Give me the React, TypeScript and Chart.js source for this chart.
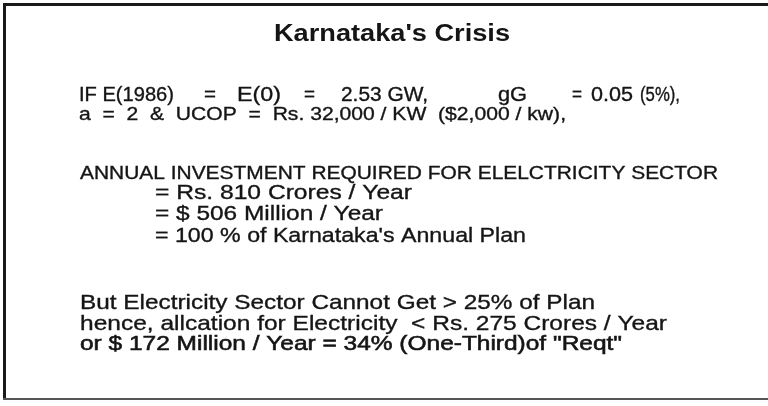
import React, { useEffect, useRef } from "react";
import { Chart, registerables } from "chart.js";

Chart.register(...registerables);

// ---- content ----
const titleText = "Karnataka's Crisis";
const firstLineParts = ["IF E(1986)", "=", "E(0)", "=", "2.53 GW,", "gG", "=", "0.05", "(5%),"];
const secondLine = "a  =  2  &  UCOP  =  Rs. 32,000 / KW  ($2,000 / kw),";
const investmentHeader = "ANNUAL INVESTMENT REQUIRED FOR ELELCTRICITY SECTOR";
const investmentLines = [
  "= Rs. 810 Crores / Year",
  "= $ 506 Million / Year",
  "= 100 % of Karnataka's Annual Plan",
];
const conclusionLines = [
  "But Electricity Sector Cannot Get > 25% of Plan",
  "hence, allcation for Electricity  < Rs. 275 Crores / Year",
  "or $ 172 Million / Year = 34% (One-Third)of \"Reqt\"",
];

// ---- layout (x start, x end, baseline, font size, weight) ----
type Slot = { x: number; r: number; y: number; size: number; bold?: boolean; heavy?: boolean };
const titleSlot: Slot = { x: 274, r: 510, y: 41, size: 23, bold: true };
const firstLineY = 101;
const firstLineSize = 19.5;
const firstLineSpans: Array<[number, number]> = [
  [79, 174], [204, 216], [237, 281], [304, 315], [341, 428],
  [498, 527], [572, 582], [591, 633], [640, 680],
];
const secondSlot: Slot = { x: 79, r: 566, y: 120, size: 18.5 };
const headerSlot: Slot = { x: 80, r: 718, y: 179, size: 18.5 };
const investmentSlots: Slot[] = [
  { x: 155, r: 412, y: 199, size: 20.5 },
  { x: 155, r: 383, y: 220, size: 20.5 },
  { x: 155, r: 526, y: 242, size: 20.5 },
];
const conclusionSlots: Slot[] = [
  { x: 80, r: 595, y: 309, size: 21 },
  { x: 80, r: 667, y: 330, size: 21 },
  { x: 80, r: 622, y: 350, size: 21, heavy: true },
];

const FONT = "'Liberation Sans', Arial, Helvetica, sans-serif";
const INK = "#151515";

function drawFitted(ctx: CanvasRenderingContext2D, text: string, s: Slot) {
  ctx.save();
  ctx.font = `${s.bold ? "bold " : ""}${s.size}px ${FONT}`;
  ctx.textBaseline = "alphabetic";
  ctx.textAlign = "left";
  const w = ctx.measureText(text).width;
  const sx = (s.r - s.x) / w;
  ctx.translate(s.x, s.y);
  ctx.scale(sx, 1);
  ctx.fillStyle = INK;
  ctx.strokeStyle = INK;
  ctx.fillText(text, 0, 0);
  if (!s.bold) {
    ctx.lineWidth = s.heavy ? 0.6 : 0.35;
    ctx.strokeText(text, 0, 0);
  }
  ctx.restore();
}

const textPlugin = {
  id: "slideText",
  afterDraw(chart: any) {
    const ctx: CanvasRenderingContext2D = chart.ctx;
    const W = chart.width;
    const H = chart.height;
    ctx.save();
    // frame
    ctx.fillStyle = "#1a1a1a";
    ctx.fillRect(3, 3, W - 3, 3); // top
    ctx.fillRect(3, 3, 3, H - 9); // left
    ctx.fillStyle = "#555555";
    ctx.fillRect(3, H - 8, W - 3, 2); // bottom
    ctx.restore();

    drawFitted(ctx, titleText, titleSlot);
    firstLineParts.forEach((t, i) => {
      const [x, r] = firstLineSpans[i];
      drawFitted(ctx, t, { x, r, y: firstLineY, size: firstLineSize });
    });
    drawFitted(ctx, secondLine, secondSlot);
    drawFitted(ctx, investmentHeader, headerSlot);
    investmentLines.forEach((t, i) => drawFitted(ctx, t, investmentSlots[i]));
    conclusionLines.forEach((t, i) => drawFitted(ctx, t, conclusionSlots[i]));
  },
};

const bgPlugin = {
  id: "bg",
  beforeDraw(chart: any) {
    const ctx = chart.ctx;
    ctx.save();
    ctx.fillStyle = "#ffffff";
    ctx.fillRect(0, 0, chart.width, chart.height);
    ctx.restore();
  },
};

export default function App() {
  const ref = useRef<HTMLCanvasElement | null>(null);
  useEffect(() => {
    document.body.style.margin = "0";
    if (!ref.current) return;
    const chart = new Chart(ref.current, {
      type: "bar",
      data: { labels: [], datasets: [] },
      options: {
        animation: false,
        responsive: false,
        devicePixelRatio: 1,
        plugins: { legend: { display: false }, title: { display: false }, tooltip: { enabled: false } },
        scales: { x: { display: false }, y: { display: false } },
      },
      plugins: [bgPlugin, textPlugin],
    });
    return () => chart.destroy();
  }, []);
  return (
    <div style={{ width: 768, height: 406 }}>
      <canvas ref={ref} width={768} height={406} style={{ display: "block" }} />
    </div>
  );
}
